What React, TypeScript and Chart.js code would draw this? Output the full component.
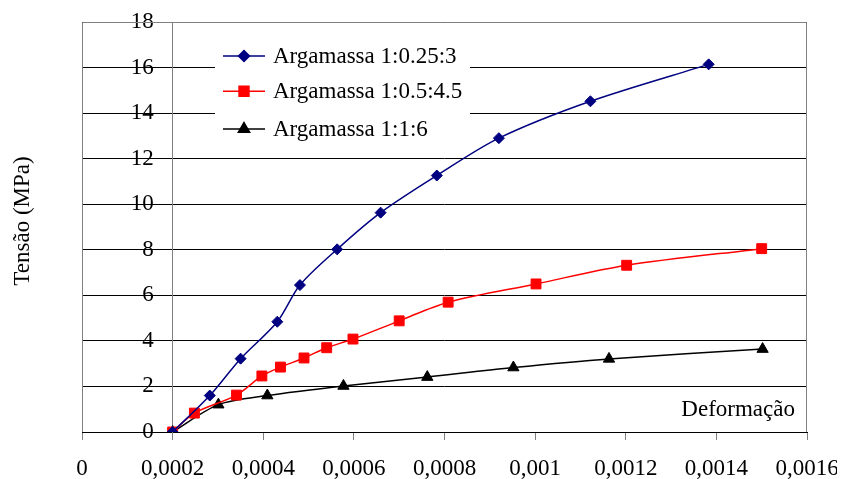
import React, { useEffect, useRef } from "react";
import { Chart, registerables } from "chart.js";
import { drawPoint } from "chart.js/helpers";

Chart.register(...registerables);

const FONT = "'Liberation Serif', 'Times New Roman', serif";

const seriesLabels = ["Argamassa 1:0.25:3", "Argamassa 1:0.5:4.5", "Argamassa 1:1:6"];
const yTitle = "Tensão (MPa)";
const xTitle = "Deformação";

const deformacaoA = [0.0002, 0.000282, 0.00035, 0.000431, 0.000481, 0.000563, 0.000659, 0.000783, 0.00092, 0.001122, 0.001383];
const tensaoA = [0, 1.6, 3.22, 4.84, 6.45, 8.02, 9.63, 11.26, 12.9, 14.52, 16.14];

const deformacaoB = [0.0002, 0.000248, 0.000341, 0.000397, 0.000438, 0.00049, 0.00054, 0.000598, 0.0007, 0.000808, 0.001002, 0.001202, 0.0015];
const tensaoB = [0, 0.83, 1.62, 2.46, 2.85, 3.25, 3.7, 4.08, 4.88, 5.7, 6.5, 7.32, 8.05];

const deformacaoC = [0.0002, 0.000301, 0.000409, 0.000577, 0.000762, 0.000952, 0.001163, 0.001502];
const tensaoC = [0, 1.2, 1.6, 2.02, 2.41, 2.83, 3.21, 3.64];

const xMin = 0;
const xMax = 0.0016;
const xStep = 0.0002;
const yMin = 0;
const yMax = 18;
const yStep = 2;
const yAxisCross = 0.0002;

const colors = ["#000080", "#FF0000", "#000000"];
const pointStyles = ["rectRot", "rect", "triangle"];
const pointRadii = [5.5, 7, 6.5];

function toPoints(xs: number[], ys: number[]) {
  return xs.map((x, i) => ({ x, y: ys[i] }));
}

const formatX = (v: number) => {
  const s = String(parseFloat(Number(v).toFixed(6)));
  return s.replace(".", ",");
};

const decorPlugin = {
  id: "decor",
  afterDraw(chart: any) {
    const { ctx, chartArea } = chart;
    const { left, top, right, bottom } = chartArea;
    ctx.save();
    // plot area border
    ctx.strokeStyle = "#808080";
    ctx.lineWidth = 1;
    ctx.beginPath();
    ctx.moveTo(left + 0.5, bottom);
    ctx.lineTo(left + 0.5, top + 0.5);
    ctx.lineTo(right - 0.5, top + 0.5);
    ctx.lineTo(right - 0.5, bottom);
    ctx.stroke();

    // y title
    ctx.fillStyle = "#000";
    ctx.font = `23px ${FONT}`;
    ctx.textAlign = "center";
    ctx.textBaseline = "middle";
    ctx.save();
    ctx.translate(15, 213);
    ctx.rotate(-Math.PI / 2);
    ctx.fillText(yTitle, 0, 0);
    ctx.restore();

    // x title inside plot
    ctx.textAlign = "right";
    ctx.textBaseline = "alphabetic";
    ctx.fillText(xTitle, right - 12, bottom - 16);

    // legend
    const lx = left + 133;
    const ly = top + 8;
    ctx.fillStyle = "#fff";
    ctx.fillRect(lx, ly, 255, 120);
    const rows = [34, 69.3, 107];
    chart.data.datasets.forEach((ds: any, i: number) => {
      const y = top + rows[i];
      ctx.strokeStyle = ds.borderColor;
      ctx.lineWidth = 1.5;
      ctx.beginPath();
      ctx.moveTo(lx + 8, y);
      ctx.lineTo(lx + 50, y);
      ctx.stroke();
      ctx.fillStyle = ds.backgroundColor;
      drawPoint(ctx, { pointStyle: ds.pointStyle, radius: ds.pointRadius, borderWidth: 1, rotation: 0 } as any, lx + 29, y);
      ctx.fillStyle = "#000";
      ctx.font = `23px ${FONT}`;
      ctx.textAlign = "left";
      ctx.textBaseline = "middle";
      ctx.fillText(ds.label, lx + 58, y + 1);
    });
    ctx.restore();
  },
};

export default function App() {
  const ref = useRef<HTMLCanvasElement | null>(null);
  useEffect(() => {
    if (!ref.current) return;
    const data = [toPoints(deformacaoA, tensaoA), toPoints(deformacaoB, tensaoB), toPoints(deformacaoC, tensaoC)];
    const chart = new Chart(ref.current, {
      type: "scatter",
      data: {
        datasets: data.map((d, i) => ({
          label: seriesLabels[i],
          data: d,
          showLine: true,
          borderColor: colors[i],
          backgroundColor: colors[i],
          borderWidth: 1.5,
          pointStyle: pointStyles[i] as any,
          pointRadius: pointRadii[i],
          pointBorderWidth: 1,
          tension: 0.3,
        })),
      },
      options: {
        animation: false,
        responsive: false,
        maintainAspectRatio: false,
        layout: { padding: { left: 74, top: 14, right: 30, bottom: 0 } },
        plugins: {
          legend: { display: false },
          tooltip: { enabled: false },
        },
        scales: {
          x: {
            type: "linear",
            position: "bottom",
            min: xMin,
            max: xMax,
            afterFit: (s: any) => {
              s.height = 47;
              s.paddingLeft = 0;
              s.paddingRight = 0;
            },
            afterBuildTicks: (s: any) => {
              const t = [];
              for (let v = xMin; v <= xMax + 1e-12; v += xStep) t.push({ value: parseFloat(v.toFixed(6)) });
              s.ticks = t;
            },
            grid: { display: true, drawOnChartArea: false, color: "#808080", tickLength: 8, tickColor: "#808080" },
            border: { display: true, color: "#000" },
            ticks: {
              color: "#000",
              font: { family: FONT, size: 23 },
              padding: 15,
              maxRotation: 0,
              autoSkip: false,
              callback: (v: any) => formatX(Number(v)),
            },
          },
          y: {
            type: "linear",
            position: { x: yAxisCross } as any,
            min: yMin,
            max: yMax,
            afterFit: (s: any) => {
              s.width = 0;
              s.paddingTop = 0;
              s.paddingBottom = 0;
            },
            afterUpdate: (s: any) => {
              if (s.__patched) return;
              s.__patched = true;
              const orig = s._computeLabelItems;
              s._computeLabelItems = function (ca: any) {
                const items = orig.call(this, ca);
                items.forEach((it: any) => {
                  it.options.translation[0] -= 19;
                });
                return items;
              };
            },
            grid: { display: true, color: "#000", tickLength: 8, tickColor: "#000" },
            border: { display: true, color: "#808080" },
            ticks: {
              stepSize: yStep,
              color: "#000",
              font: { family: FONT, size: 23 },
              padding: 11,
            },
          },
        },
      },
      plugins: [decorPlugin],
    });
    return () => chart.destroy();
  }, []);
  return (
    <div style={{ width: 829, height: 471 }}>
      <canvas ref={ref} width={829} height={471} style={{ display: "block" }} />
    </div>
  );
}
